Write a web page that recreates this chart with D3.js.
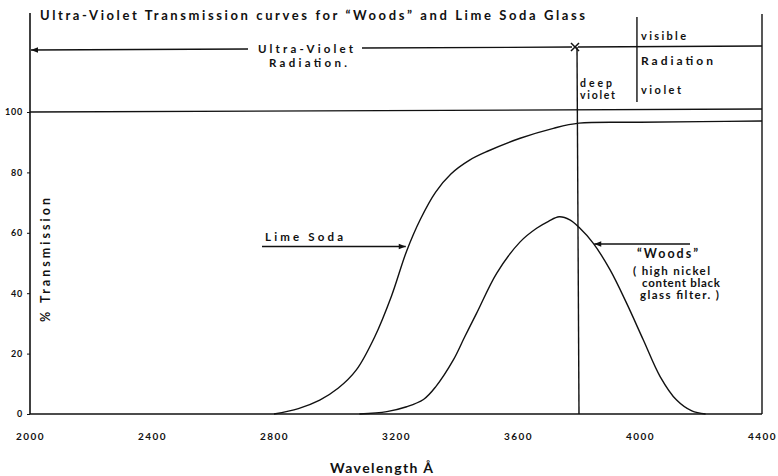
<!DOCTYPE html>
<html>
<head>
<meta charset="utf-8">
<script src="https://cdn.jsdelivr.net/npm/d3@7/dist/d3.min.js"></script>
<style>
  html, body { margin: 0; padding: 0; background: #fff; }
  svg { display: block; }
  text { font-family: Lato, "DejaVu Sans", sans-serif; font-weight: bold; fill: #111; }
</style>
</head>
<body>
<svg id="chart" width="778" height="476"></svg>
<script>
const titleText = "Ultra-Violet Transmission curves for \u201CWoods\u201D and Lime Soda Glass";
const wavelengthTicks = [2000, 2400, 2800, 3200, 3600, 4000, 4400];
const transmissionTicks = [0, 20, 40, 60, 80, 100];

const limeSodaWavelength = [2800, 2880, 2950, 3010, 3070, 3130, 3185, 3235, 3280, 3330, 3380, 3440, 3500, 3607, 3716, 3800, 4000, 4200, 4400];
const limeSodaTransmission = [0, 1.8, 4.6, 8.5, 14.6, 25.5, 39, 54, 64.5, 73.5, 79.5, 84, 87, 91.3, 94.6, 96.3, 96.6, 96.8, 97];

const woodsWavelength = [3080, 3170, 3235, 3290, 3330, 3388, 3425, 3464, 3530, 3607, 3661, 3700, 3735, 3770, 3800, 3847, 3902, 3956, 4011, 4066, 4120, 4170, 4215];
const woodsTransmission = [0, 0.8, 2.4, 4.8, 9, 17.9, 25.5, 33.3, 46.6, 57, 61.5, 63.8, 65.3, 64.3, 61.8, 56.5, 47.7, 36.7, 24.5, 12.4, 4.6, 1.0, 0];

const svg = d3.select("#chart");
const x = d3.scaleLinear().domain([2000, 4400]).range([30, 762]);
const y = d3.scaleLinear().domain([0, 100]).range([414, 112]);
const ink = "#111";

const defs = svg.append("defs");
defs.append("marker").attr("id", "arr").attr("viewBox", "0 0 10 10")
  .attr("refX", 10).attr("refY", 5).attr("markerWidth", 9).attr("markerHeight", 7)
  .attr("markerUnits", "userSpaceOnUse").attr("orient", "auto")
  .append("path").attr("d", "M0,1 L10,5 L0,9 Z").attr("fill", ink);

// Title
svg.append("text").attr("x", 40).attr("y", 20).attr("font-size", 13)
  .attr("textLength", 545).attr("lengthAdjust", "spacing").text(titleText);

// Frame lines
svg.append("line").attr("x1", x(2000)).attr("x2", x(2000)).attr("y1", 13).attr("y2", y(0))
  .attr("stroke", ink).attr("stroke-width", 1.6);
svg.append("line").attr("x1", x(2000)).attr("x2", x(4400)).attr("y1", y(0)).attr("y2", y(0))
  .attr("stroke", ink).attr("stroke-width", 1.6);
svg.append("line").attr("x1", x(4400)).attr("x2", x(4400)).attr("y1", 14).attr("y2", y(0))
  .attr("stroke", ink).attr("stroke-width", 1.4);
svg.append("line").attr("x1", x(2000)).attr("x2", x(4400)).attr("y1", y(100)).attr("y2", y(100) - 3)
  .attr("stroke", ink).attr("stroke-width", 1.3);

// Axes (labels)
const xAxis = svg.append("g").attr("transform", `translate(0,${y(0)})`)
  .call(d3.axisBottom(x).tickValues(wavelengthTicks).tickSize(0).tickPadding(19).tickFormat(d3.format("d")));
xAxis.select(".domain").remove();
xAxis.selectAll("text").attr("font-size", 10).attr("font-family", "Lato, 'DejaVu Sans', sans-serif")
  .attr("font-weight", "bold").attr("fill", ink).attr("letter-spacing", 1.4);

const yAxis = svg.append("g").attr("transform", `translate(${x(2000)},0)`)
  .call(d3.axisLeft(y).tickValues(transmissionTicks).tickSize(3).tickPadding(4).tickFormat(d3.format("d")));
yAxis.select(".domain").remove();
yAxis.selectAll("line").attr("stroke", ink);
yAxis.selectAll("text").attr("font-size", 9).attr("font-family", "Lato, 'DejaVu Sans', sans-serif")
  .attr("font-weight", "bold").attr("fill", ink).attr("letter-spacing", 0.8);

// Axis titles
svg.append("text").attr("x", 330).attr("y", 473).attr("font-size", 14)
  .attr("textLength", 103).attr("lengthAdjust", "spacing").text("Wavelength \u00C5");
svg.append("text").attr("transform", "translate(50,260) rotate(-90)").attr("text-anchor", "middle")
  .attr("font-size", 12.5).attr("textLength", 124).attr("lengthAdjust", "spacing")
  .text("%   Transmission");

// Curves
const line = d3.line().x(d => x(d[0])).y(d => y(d[1])).curve(d3.curveCatmullRom.alpha(0.5));
svg.append("path").datum(limeSodaWavelength.map((w, i) => [w, limeSodaTransmission[i]]))
  .attr("d", line).attr("fill", "none").attr("stroke", ink).attr("stroke-width", 1.4);
svg.append("path").datum(woodsWavelength.map((w, i) => [w, woodsTransmission[i]]))
  .attr("d", line).attr("fill", "none").attr("stroke", ink).attr("stroke-width", 1.4);

// Deep violet boundary line at 3800
svg.append("line").attr("x1", x(3800) - 2).attr("x2", x(3800)).attr("y1", 47).attr("y2", y(0))
  .attr("stroke", ink).attr("stroke-width", 1.4);
svg.append("path").attr("d", `M${x(3800) - 8},43 L${x(3800)},51 M${x(3800) - 8},51 L${x(3800)},43`)
  .attr("stroke", ink).attr("stroke-width", 1.5);

// Ultra-violet radiation arrow
svg.append("line").attr("x1", 248).attr("x2", x(2000) + 1).attr("y1", 49).attr("y2", 50)
  .attr("stroke", ink).attr("stroke-width", 1.3).attr("marker-end", "url(#arr)");
svg.append("line").attr("x1", 362).attr("x2", x(3800) - 7).attr("y1", 48).attr("y2", 47)
  .attr("stroke", ink).attr("stroke-width", 1.3);
svg.append("line").attr("x1", x(3800) - 1).attr("x2", x(4400)).attr("y1", 47).attr("y2", 46)
  .attr("stroke", ink).attr("stroke-width", 1.3);
svg.append("text").attr("x", 258).attr("y", 53).attr("font-size", 11.5)
  .attr("textLength", 95).attr("lengthAdjust", "spacing").text("Ultra-Violet");
svg.append("text").attr("x", 269).attr("y", 67).attr("font-size", 11.5)
  .attr("textLength", 78).attr("lengthAdjust", "spacing").text("Radiation.");

// Visible radiation divider
svg.append("line").attr("x1", x(3990)).attr("x2", x(3990)).attr("y1", 17).attr("y2", 102)
  .attr("stroke", ink).attr("stroke-width", 1.4);
svg.append("text").attr("x", 641).attr("y", 40).attr("font-size", 11)
  .attr("textLength", 45).attr("lengthAdjust", "spacing").text("visible");
svg.append("text").attr("x", 641).attr("y", 65).attr("font-size", 12)
  .attr("textLength", 72).attr("lengthAdjust", "spacing").text("Radiation");
svg.append("text").attr("x", 641).attr("y", 94).attr("font-size", 11)
  .attr("textLength", 40).attr("lengthAdjust", "spacing").text("violet");
svg.append("text").attr("x", 580).attr("y", 87).attr("font-size", 10.5)
  .attr("textLength", 32).attr("lengthAdjust", "spacing").text("deep");
svg.append("text").attr("x", 580).attr("y", 98.5).attr("font-size", 10.5)
  .attr("textLength", 35).attr("lengthAdjust", "spacing").text("violet");

// Lime Soda label
svg.append("text").attr("x", 265).attr("y", 241).attr("font-size", 11.5)
  .attr("textLength", 78).attr("lengthAdjust", "spacing").text("Lime Soda");
svg.append("line").attr("x1", 262).attr("x2", x(3232)).attr("y1", 246.5).attr("y2", 246.5)
  .attr("stroke", ink).attr("stroke-width", 1.3).attr("marker-end", "url(#arr)");

// Woods label
svg.append("line").attr("x1", 690).attr("x2", x(3850)).attr("y1", 244).attr("y2", 244)
  .attr("stroke", ink).attr("stroke-width", 1.3).attr("marker-end", "url(#arr)");
svg.append("text").attr("x", 637).attr("y", 258).attr("font-size", 12.5)
  .attr("textLength", 61).attr("lengthAdjust", "spacing").text("\u201CWoods\u201D");
svg.append("text").attr("x", 633).attr("y", 275).attr("font-size", 11.5)
  .attr("textLength", 77).attr("lengthAdjust", "spacing").text("( high nickel");
svg.append("text").attr("x", 642).attr("y", 287).attr("font-size", 11.5)
  .attr("textLength", 78).attr("lengthAdjust", "spacing").text("content black");
svg.append("text").attr("x", 640).attr("y", 299).attr("font-size", 11.5)
  .attr("textLength", 79).attr("lengthAdjust", "spacing").text("glass filter. )");
</script>
</body>
</html>
